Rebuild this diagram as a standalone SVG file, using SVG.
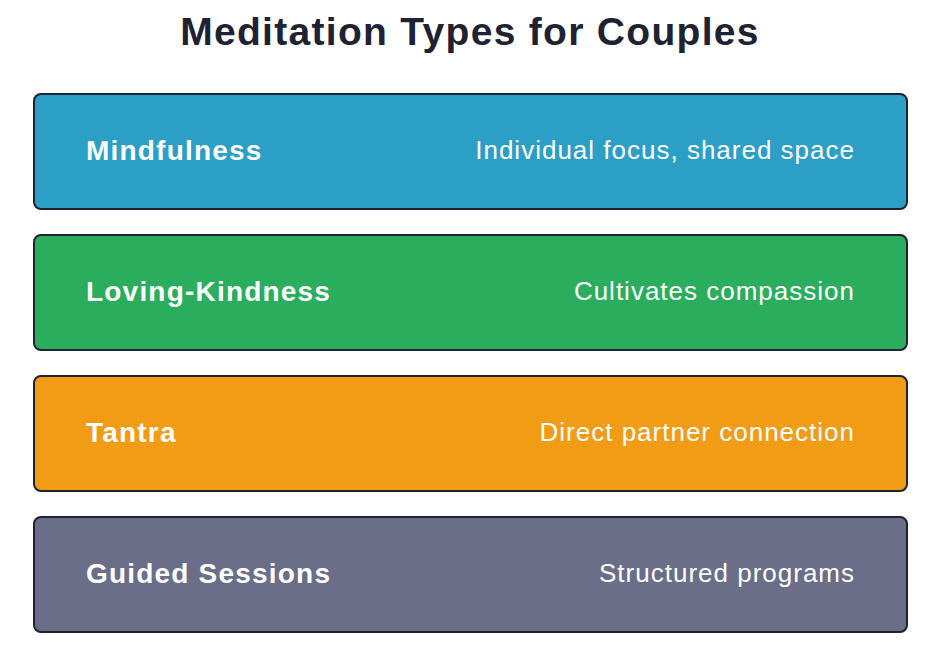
<svg xmlns="http://www.w3.org/2000/svg" width="939" height="662" viewBox="0 0 939 662">
<style>
.box{stroke:#1f2230;stroke-width:2}
.l{font-family:"Liberation Sans",Arial,sans-serif;font-weight:bold;font-size:28px;letter-spacing:1.2px;fill:#fff}
.r{font-family:"Liberation Sans",Arial,sans-serif;font-size:26px;letter-spacing:1px;fill:#fff;text-anchor:end}
.t{font-family:"Liberation Sans",Arial,sans-serif;font-weight:bold;font-size:39px;letter-spacing:1.3px;fill:#1f2233;text-anchor:middle}
</style>
<rect width="939" height="662" fill="#fff"/>
<text class="t" x="470" y="45">Meditation Types for Couples</text>
<g id="mindfulness"><rect class="box" x="34" y="94" width="873" height="115" rx="7" fill="#2b9fc6"/><text class="l" x="86" y="160">Mindfulness</text><text class="r" x="855" y="159">Individual focus, shared space</text></g>
<g id="loving-kindness"><rect class="box" x="34" y="235" width="873" height="115" rx="7" fill="#2aae5e"/><text class="l" x="86" y="301">Loving-Kindness</text><text class="r" x="855" y="300">Cultivates compassion</text></g>
<g id="tantra"><rect class="box" x="34" y="376" width="873" height="115" rx="7" fill="#f29c16"/><text class="l" x="86" y="442">Tantra</text><text class="r" x="855" y="441">Direct partner connection</text></g>
<g id="guided"><rect class="box" x="34" y="517" width="873" height="115" rx="7" fill="#6b6e89"/><text class="l" x="86" y="583">Guided Sessions</text><text class="r" x="855" y="582">Structured programs</text></g>
<g id="connectors"/>
</svg>
